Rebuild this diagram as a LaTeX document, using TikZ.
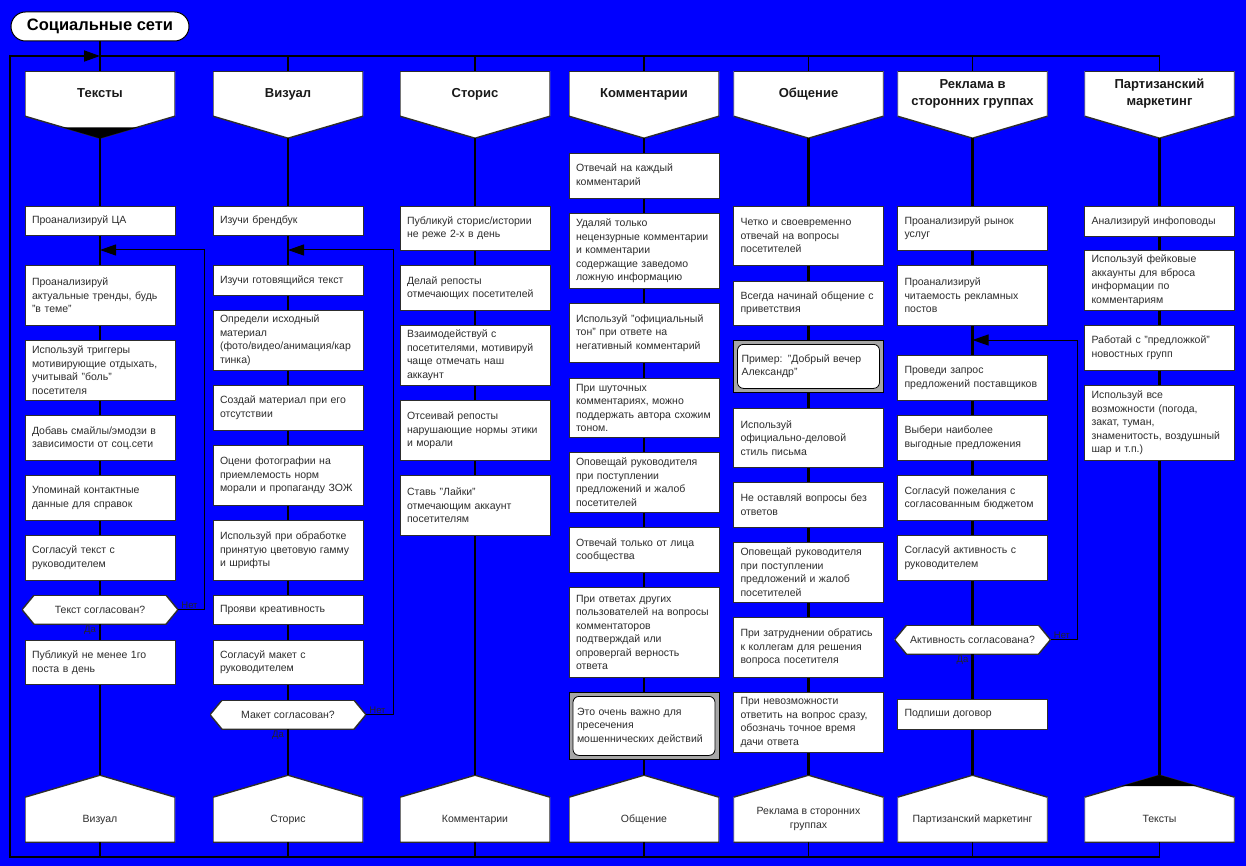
\documentclass[tikz,border=0pt]{standalone}
\usepackage{fontspec}
\setmainfont{Liberation Sans}
\usetikzlibrary{arrows.meta}
\definecolor{drakonblue}{RGB}{0,0,255}
\definecolor{inkgray}{RGB}{45,45,45}
\definecolor{notegray}{RGB}{166,166,166}

\tikzset{
  actbox/.style={draw=inkgray, line width=0.8pt, fill=white, anchor=north,
    text width=136pt, inner xsep=7pt, inner ysep=2pt, align=left,
    font=\fontsize{10.5}{13.5}\selectfont, text=inkgray},
  notebox/.style={actbox, fill=notegray, draw=black, text width=134pt, inner xsep=8pt,
    path picture={\draw[black, line width=0.8pt, fill=white, rounded corners=6pt]
      ([shift={(4pt,-4pt)}]path picture bounding box.north west) rectangle
      ([shift={(-4pt,4pt)}]path picture bounding box.south east);}},
  hdr/.style={fill=drakonblue, anchor=north, minimum width=150pt, minimum height=67pt, inner sep=0pt,
    path picture={\draw[inkgray, line width=1.4pt, fill=white]
      (path picture bounding box.north west) -- (path picture bounding box.north east)
      -- ([yshift=22pt]path picture bounding box.south east) -- (path picture bounding box.south)
      -- ([yshift=22pt]path picture bounding box.south west) -- cycle;}},
  hdrtext/.style={font=\bfseries\fontsize{13}{17}\selectfont, align=center, yshift=11pt, text=black!90},
  hdrone/.style={hdrtext, text height=9.3pt, text depth=0pt, yshift=0.5pt},
  addr/.style={fill=drakonblue, anchor=north, minimum width=150pt, minimum height=67pt, inner sep=0pt,
    path picture={\draw[inkgray, line width=1.4pt, fill=white]
      (path picture bounding box.south west) -- ([yshift=-22pt]path picture bounding box.north west)
      -- (path picture bounding box.north) -- ([yshift=-22pt]path picture bounding box.north east)
      -- (path picture bounding box.south east) -- cycle;}},
  addrtext/.style={font=\fontsize{10.5}{13.5}\selectfont, align=center, yshift=-10.5pt, text=inkgray},
  addrone/.style={addrtext, text height=7.5pt, text depth=0pt},
  decision/.style={fill=drakonblue, anchor=north, minimum width=156pt, minimum height=29pt, inner sep=0pt,
    font=\fontsize{10.5}{13.5}\selectfont, text=inkgray,
    path picture={\draw[inkgray, line width=1.4pt, fill=white]
      (path picture bounding box.west) -- ([xshift=12pt]path picture bounding box.north west)
      -- ([xshift=-12pt]path picture bounding box.north east) -- (path picture bounding box.east)
      -- ([xshift=-12pt]path picture bounding box.south east)
      -- ([xshift=12pt]path picture bounding box.south west) -- cycle;}},
  yn/.style={font=\fontsize{9.5}{11}\selectfont, inner sep=1pt, text=black!85},
  title/.style={draw=black, line width=1pt, fill=white, rounded corners=14.5pt,
    minimum width=178pt, minimum height=29pt, font=\bfseries\fontsize{16.5}{20}\selectfont},
  colline/.style={line width=2.4pt},
  rail/.style={line width=1.8pt},
  backline/.style={line width=1pt, -{Triangle[length=16pt,width=11pt]}}
}

\begin{document}
\begin{tikzpicture}[x=1pt, y=-1pt]
    \useasboundingbox (0,0) rectangle (1246,866);
    \fill[drakonblue] (0,0) rectangle (1246,866);

    % Title
    \node[title] (title) at (100,26.5) {Социальные сети};

    % Headers
    \node[hdr, label={[hdrone]center:Тексты}] (h1) at (100,71) {};
    \node[hdr, label={[hdrone]center:Визуал}] (h2) at (288,71) {};
    \node[hdr, label={[hdrone]center:Сторис}] (h3) at (475,71) {};
    \node[hdr, label={[hdrone]center:Комментарии}] (h4) at (644,71) {};
    \node[hdr, label={[hdrone]center:Общение}] (h5) at (808.5,71) {};
    \node[hdr, label={[hdrtext]center:Реклама в\\сторонних группах}] (h6) at (972.5,71) {};
    \node[hdr, label={[hdrtext]center:Партизанский\\маркетинг}] (h7) at (1159.5,71) {};
    \fill (h1.south) -- ++(-37.5,-11) -- ++(75,0) -- cycle;

    % Addresses
    \node[addr, label={[addrone]center:Визуал}] (a1) at (100,775) {};
    \node[addr, label={[addrone]center:Сторис}] (a2) at (288,775) {};
    \node[addr, label={[addrone]center:Комментарии}] (a3) at (475,775) {};
    \node[addr, label={[addrone]center:Общение}] (a4) at (644,775) {};
    \node[addr, label={[addrtext]center:Реклама в сторонних\\группах}] (a5) at (808.5,775) {};
    \node[addr, label={[addrone]center:Партизанский маркетинг}] (a6) at (972.5,775) {};
    \node[addr, label={[addrone]center:Тексты}] (a7) at (1159.5,775) {};
    \fill (a7.north) -- ++(-37.5,11) -- ++(75,0) -- cycle;

    % Texts
    \node[actbox, minimum height=29] (t1) at (100,206) {Проанализируй ЦА};
    \node[actbox, minimum height=60] (t2) at (100,265) {Проанализируй\\актуальные тренды, будь\\"в теме"};
    \node[actbox, minimum height=60] (t3) at (100,340) {Используй триггеры\\мотивирующие отдыхать,\\учитывай "боль"\\посетителя};
    \node[actbox, minimum height=45] (t4) at (100,415) {Добавь смайлы/эмодзи в\\зависимости от соц.сети};
    \node[actbox, minimum height=45] (t5) at (100,475) {Упоминай контактные\\данные для справок};
    \node[actbox, minimum height=45] (t6) at (100,535) {Согласуй текст с\\руководителем};
    \node[decision] (d1) at (100,595) {Текст согласован?};
    \node[actbox, minimum height=44] (t7) at (100,640) {Публикуй не менее 1го\\поста в день};

    % Visual
    \node[actbox, minimum height=29] (v1) at (288,206) {Изучи брендбук};
    \node[actbox, minimum height=30] (v2) at (288,265) {Изучи готовящийся текст};
    \node[actbox, minimum height=60] (v3) at (288,310) {Определи исходный\\материал\\(фото/видео/анимация/кар\\тинка)};
    \node[actbox, minimum height=45] (v4) at (288,385) {Создай материал при его\\отсутствии};
    \node[actbox, minimum height=60] (v5) at (288,445) {Оцени фотографии на\\приемлемость норм\\морали и пропаганду ЗОЖ};
    \node[actbox, minimum height=60] (v6) at (288,520) {Используй при обработке\\принятую цветовую гамму\\и шрифты};
    \node[actbox, minimum height=29] (v7) at (288,595) {Прояви креативность};
    \node[actbox, minimum height=44] (v8) at (288,640) {Согласуй макет с\\руководителем};
    \node[decision] (d2) at (288,700) {Макет согласован?};

    % Stories
    \node[actbox, minimum height=44] (s1) at (475,206) {Публикуй сторис/истории\\не реже 2-х в день};
    \node[actbox, minimum height=45] (s2) at (475,265) {Делай репосты\\отмечающих посетителей};
    \node[actbox, minimum height=60] (s3) at (475,325) {Взаимодействуй с\\посетителями, мотивируй\\чаще отмечать наш\\аккаунт};
    \node[actbox, minimum height=60] (s4) at (475,400) {Отсеивай репосты\\нарушающие нормы этики\\и морали};
    \node[actbox, minimum height=60] (s5) at (475,475) {Ставь "Лайки"\\отмечающим аккаунт\\посетителям};

    % Comments
    \node[actbox, minimum height=45] (k1) at (644,153) {Отвечай на каждый\\комментарий};
    \node[actbox, minimum height=75] (k2) at (644,213) {Удаляй только\\нецензурные комментарии\\и комментарии\\содержащие заведомо\\ложную информацию};
    \node[actbox, minimum height=59] (k3) at (644,303) {Используй "официальный\\тон" при ответе на\\негативный комментарий};
    \node[actbox, minimum height=59] (k4) at (644,378) {При шуточных\\комментариях, можно\\поддержать автора схожим\\тоном.};
    \node[actbox, minimum height=60] (k5) at (644,452) {Оповещай руководителя\\при поступлении\\предложений и жалоб\\посетителей};
    \node[actbox, minimum height=45] (k6) at (644,527) {Отвечай только от лица\\сообщества};
    \node[actbox, minimum height=90] (k7) at (644,587) {При ответах других\\пользователей на вопросы\\комментаторов\\подтверждай или\\опровергай верность\\ответа};
    \node[notebox, minimum height=67] (k8) at (644,692) {Это очень важно для\\пресечения\\мошеннических действий};

    % Talk
    \node[actbox, minimum height=59] (o1) at (808.5,206) {Четко и своевременно\\отвечай на вопросы\\посетителей};
    \node[actbox, minimum height=44] (o2) at (808.5,281) {Всегда начинай общение с\\приветствия};
    \node[notebox, minimum height=52] (o3) at (808.5,340) {Пример: "Добрый вечер\\Александр"};
    \node[actbox, minimum height=59] (o4) at (808.5,408) {Используй\\официально-деловой\\стиль письма};
    \node[actbox, minimum height=45] (o5) at (808.5,482) {Не оставляй вопросы без\\ответов};
    \node[actbox, minimum height=60] (o6) at (808.5,542) {Оповещай руководителя\\при поступлении\\предложений и жалоб\\посетителей};
    \node[actbox, minimum height=60] (o7) at (808.5,617) {При затруднении обратись\\к коллегам для решения\\вопроса посетителя};
    \node[actbox, minimum height=60] (o8) at (808.5,692) {При невозможности\\ответить на вопрос сразу,\\обозначь точное время\\дачи ответа};

    % Ads
    \node[actbox, minimum height=44] (r1) at (972.5,206) {Проанализируй рынок\\услуг};
    \node[actbox, minimum height=60] (r2) at (972.5,265) {Проанализируй\\читаемость рекламных\\постов};
    \node[actbox, minimum height=45] (r3) at (972.5,355) {Проведи запрос\\предложений поставщиков};
    \node[actbox, minimum height=45] (r4) at (972.5,415) {Выбери наиболее\\выгодные предложения};
    \node[actbox, minimum height=45] (r5) at (972.5,475) {Согласуй пожелания с\\согласованным бюджетом};
    \node[actbox, minimum height=45] (r6) at (972.5,535) {Согласуй активность с\\руководителем};
    \node[decision] (d6) at (972.5,625) {Активность согласована?};
    \node[actbox, minimum height=30] (r7) at (972.5,699) {Подпиши договор};

    % Guerrilla
    \node[actbox, minimum height=30] (p1) at (1159.5,206) {Анализируй инфоповоды};
    \node[actbox, minimum height=60] (p2) at (1159.5,250) {Используй фейковые\\аккаунты для вброса\\информации по\\комментариям};
    \node[actbox, minimum height=45] (p3) at (1159.5,325) {Работай с "предложкой"\\новостных групп};
    \node[actbox, minimum height=75] (p4) at (1159.5,385) {Используй все\\возможности (погода,\\закат, туман,\\знаменитость, воздушный\\шар и т.п.)};

    % Columns
    \draw[colline] (h1) -- (t1) -- (t2) -- (t3) -- (t4) -- (t5) -- (t6) -- (d1) -- (t7) -- (a1);
    \draw[colline] (h2) -- (v1) -- (v2) -- (v3) -- (v4) -- (v5) -- (v6) -- (v7) -- (v8) -- (d2) -- (a2);
    \draw[colline] (h3) -- (s1) -- (s2) -- (s3) -- (s4) -- (s5) -- (a3);
    \draw[colline] (h4) -- (k1) -- (k2) -- (k3) -- (k4) -- (k5) -- (k6) -- (k7) -- (k8) -- (a4);
    \draw[colline] (h5) -- (o1) -- (o2) -- (o3) -- (o4) -- (o5) -- (o6) -- (o7) -- (o8) -- (a5);
    \draw[colline] (h6) -- (r1) -- (r2) -- (r3) -- (r4) -- (r5) -- (r6) -- (d6) -- (r7) -- (a6);
    \draw[colline] (h7) -- (p1) -- (p2) -- (p3) -- (p4) -- (a7);

    % Loops
    \coordinate (j1) at (100,250);
    \coordinate (j2) at (288,250);
    \coordinate (j6) at (972.5,340);
    \draw[backline] (d1.east) -- ++(26,0) |- (j1);
    \draw[backline] (d2.east) -- ++(27,0) |- (j2);
    \draw[backline] (d6.east) -- ++(27,0) |- (j6);
    \node[yn, anchor=south west] (n1) at ([xshift=2pt]d1.east) {Нет};
    \node[yn, anchor=north east] (y1) at ([xshift=-3pt]d1.south) {Да};
    \node[yn, anchor=south west] (n2) at ([xshift=2pt]d2.east) {Нет};
    \node[yn, anchor=north east] (y2) at ([xshift=-3pt]d2.south) {Да};
    \node[yn, anchor=south west] (n6) at ([xshift=2pt]d6.east) {Нет};
    \node[yn, anchor=north east] (y6) at ([xshift=-3pt]d6.south) {Да};

    % Rails
    \coordinate (tl) at (10,56);
    \coordinate (tr) at (1159.5,56);
    \coordinate (bl) at (10,857);
    \coordinate (br) at (1159.5,857);
    \draw[rail] (title) -- (h1);
    \draw[rail] (h1.north |- tl) -- (tr) -- (h7);
    \foreach \n in {h2,h3,h4,h5,h6} \draw[rail] (\n.north |- tl) -- (\n);
    \foreach \n in {a1,a2,a3,a4,a5,a6} \draw[rail] (\n) -- (\n.south |- bl);
    \draw[rail, -{Triangle[length=16pt,width=11pt]}] (a7) -- (br) -- (bl) -- (tl) -- (h1.north |- tl);
\end{tikzpicture}
\end{document}
